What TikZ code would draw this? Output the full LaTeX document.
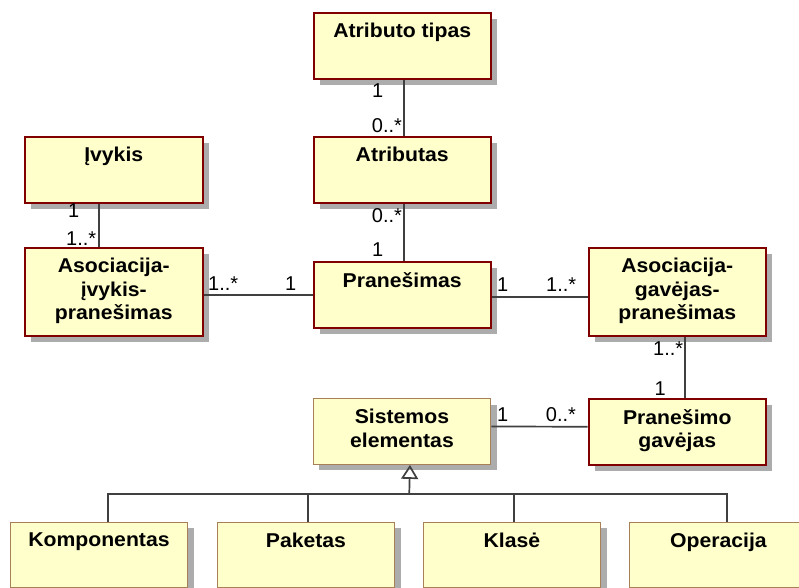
\documentclass[tikz,border=0pt]{standalone}
\usepackage{fontspec}
\setmainfont{Liberation Sans}
\newfontfamily\titlefont[FakeStretch=1.06]{Liberation Sans}
\usetikzlibrary{shadows,arrows.meta}
\definecolor{boxfill}{RGB}{255,255,204}
\definecolor{boxred}{RGB}{128,0,0}
\definecolor{boxtan}{RGB}{168,128,88}
\definecolor{shade}{RGB}{172,172,172}
\definecolor{wire}{RGB}{64,64,64}
\tikzset{
  box/.style={rectangle, fill=boxfill, minimum width=177.5pt, inner sep=0pt,
    anchor=north west,
    general shadow={fill=shade, shadow xshift=6pt, shadow yshift=-6pt}},
  cls/.style={box, draw=boxred, line width=2pt},
  ext/.style={box, draw=boxtan, line width=1.4pt},
  short/.style={minimum height=65.5pt},
  tall/.style={minimum height=88pt},
  ttl/.style={font=\titlefont\fontsize{20}{23.5}\selectfont\bfseries, align=center,
    inner sep=0pt, anchor=north},
  mult/.style={font=\fontsize{20}{24}\selectfont, inner sep=0pt, anchor=base west},
  conn/.style={draw=wire, line width=1.7pt},
  gen/.style={conn, -{Triangle[open, length=14pt, width=17pt]}},
}
\begin{document}
\begin{tikzpicture}[x=1pt, y=-1pt]
\path[use as bounding box, fill=white] (0,0) rectangle (799,587);

% classes
\node[cls, short] (atip) at (312.5,12.3) {};
\node[cls, short] (ivk)  at (24,136) {};
\node[cls, short] (atr)  at (312.5,136) {};
\node[cls, tall]  (aie)  at (24,247) {};
\node[cls, short] (prn)  at (312.5,261) {};
\node[cls, tall]  (agp)  at (587.5,247) {};
\node[ext, short] (sis)  at (312.5,398) {};
\node[cls, short] (pgv)  at (587.5,398) {};
\node[ext, short] (kom)  at (9.5,521.5) {};
\node[ext, short] (pak)  at (216.5,521.5) {};
\node[ext, short] (kla)  at (422.5,521.5) {};
\node[ext, short] (ope)  at (629,521.5) {};

% class names
\node[ttl] (atip-t) at ([yshift=-11pt]atip.north) {Atributo tipas};
\node[ttl] (ivk-t)  at ([yshift=-11pt]ivk.north)  {Įvykis};
\node[ttl] (atr-t)  at ([yshift=-11pt]atr.north)  {Atributas};
\node[ttl] (aie-t)  at ([yshift=-11pt]aie.north)  {Asociacija-\\įvykis-\\pranešimas};
\node[ttl] (prn-t)  at ([yshift=-11pt]prn.north)  {Pranešimas};
\node[ttl] (agp-t)  at ([yshift=-11pt]agp.north)  {Asociacija-\\gavėjas-\\pranešimas};
\node[ttl] (sis-t)  at ([yshift=-11pt]sis.north)  {Sistemos\\elementas};
\node[ttl] (pgv-t)  at ([yshift=-11pt]pgv.north)  {Pranešimo\\gavėjas};
\node[ttl] (kom-t)  at ([yshift=-11pt]kom.north)  {Komponentas};
\node[ttl] (pak-t)  at ([yshift=-11pt]pak.north)  {Paketas};
\node[ttl] (kla-t)  at ([yshift=-11pt]kla.north)  {Klasė};
\node[ttl] (ope-t)  at ([yshift=-11pt]ope.north)  {Operacija};

% associations
\draw[conn] ([xshift=2pt]atip.south) -- ([xshift=2pt]atr.north);
\draw[conn] ([xshift=2pt]atr.south) -- ([xshift=2pt]prn.north);
\draw[conn] ([xshift=-14.5pt]ivk.south) -- ([xshift=-14.5pt]aie.north);
\draw[conn] (prn.west -| aie.east) -- (prn.west);
\draw[conn] ([yshift=-2pt]prn.east) -- ([yshift=-2pt]prn.east -| agp.west);
\draw[conn] ([xshift=8pt]agp.south) -- ([xshift=8pt]pgv.north);
\draw[conn] ([yshift=5pt]sis.east) -- ([yshift=5pt]pgv.west);

% multiplicities
\node[mult] (m1)  at (372,97)      {1};
\node[mult] (m2)  at (371.7,132)   {0..*};
\node[mult] (m3)  at (68,217)      {1};
\node[mult] (m4)  at (66,245.5)    {1..*};
\node[mult] (m5)  at (371.7,222)   {0..*};
\node[mult] (m6)  at (372,256.5)   {1};
\node[mult] (m7)  at (208,290.5)   {1..*};
\node[mult] (m8)  at (285,290.5)   {1};
\node[mult] (m9)  at (497,291.5)   {1};
\node[mult] (m10) at (546,291.5)   {1..*};
\node[mult] (m11) at (653,355)     {1..*};
\node[mult] (m12) at (654.5,395)   {1};
\node[mult] (m13) at (497,421.7)   {1};
\node[mult] (m14) at (545.7,421.7) {0..*};

% generalization
\coordinate (bus) at (409.25,494);
\draw[conn] ([xshift=8.75pt]kom.north) |- (bus) -| ([xshift=8.25pt]ope.north);
\draw[conn] ([xshift=2pt]pak.north) |- (bus);
\draw[conn] ([xshift=2pt]kla.north) |- (bus);
\draw[gen] (bus) -- ([xshift=8pt]sis.south);
\end{tikzpicture}
\end{document}
